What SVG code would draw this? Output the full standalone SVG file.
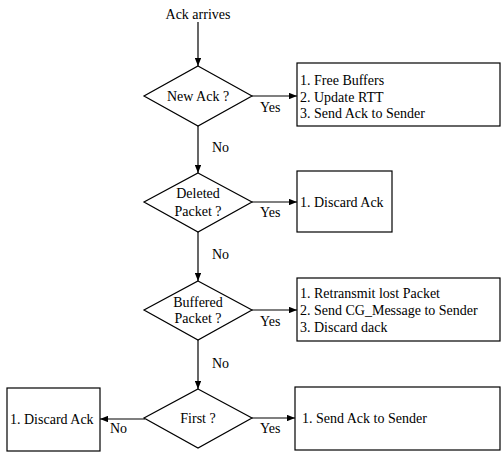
<svg xmlns="http://www.w3.org/2000/svg" width="502" height="453" viewBox="0 0 502 453">
<style>
.s{fill:#fff;stroke:#000;stroke-width:1.2}
.t{font-family:"Liberation Serif","Times New Roman",serif;font-size:14px;fill:#000}
.c{text-anchor:middle}
.l{stroke:#000;stroke-width:1.2;fill:none;marker-end:url(#a)}
</style>
<defs>
<marker id="a" viewBox="0 0 10 8" refX="10" refY="4" markerWidth="8" markerHeight="6.4" markerUnits="userSpaceOnUse" orient="auto">
<path d="M0,0L10,4L0,8z" fill="#000"/>
</marker>
</defs>
<rect width="502" height="453" fill="#fff"/>
<text class="t c" x="198" y="19">Ack arrives</text>
<g id="connectors">
<path class="l" d="M198,22V66"/>
<path class="l" d="M252,96H297"/>
<path class="l" d="M198,126V173"/>
<path class="l" d="M252,202H297"/>
<path class="l" d="M198,232V281"/>
<path class="l" d="M252,310H297"/>
<path class="l" d="M198,340V389"/>
<path class="l" d="M252,418H295"/>
<path class="l" d="M145,419H100"/>
<text class="t" x="260" y="112">Yes</text>
<text class="t" x="212" y="152">No</text>
<text class="t" x="260" y="217">Yes</text>
<text class="t" x="212" y="259">No</text>
<text class="t" x="260" y="326">Yes</text>
<text class="t" x="212" y="368">No</text>
<text class="t" x="260" y="433">Yes</text>
<text class="t" x="110" y="433">No</text>
</g>
<g id="d1">
<path class="s" d="M198,66L252,96L198,126L144,96z"/>
<text class="t c" x="198" y="101">New Ack ?</text>
</g>
<g id="b1">
<rect class="s" x="297" y="63" width="203" height="63"/>
<text class="t" x="300" y="85">1. Free Buffers</text>
<text class="t" x="300" y="101.5">2. Update RTT</text>
<text class="t" x="300" y="118">3. Send Ack to Sender</text>
</g>
<g id="d2">
<path class="s" d="M198,173L252,202L198,232L144,202z"/>
<text class="t c" x="198" y="198">Deleted</text>
<text class="t c" x="198" y="216">Packet ?</text>
</g>
<g id="b2">
<rect class="s" x="297" y="171" width="95" height="61"/>
<text class="t" x="300" y="207">1. Discard Ack</text>
</g>
<g id="d3">
<path class="s" d="M198,281L252,310L198,340L144,310z"/>
<text class="t c" x="198" y="307">Buffered</text>
<text class="t c" x="198" y="323">Packet ?</text>
</g>
<g id="b3">
<rect class="s" x="297" y="278" width="203" height="63"/>
<text class="t" x="300" y="298">1. Retransmit lost Packet</text>
<text class="t" x="300" y="315">2. Send CG_Message to Sender</text>
<text class="t" x="300" y="332">3. Discard dack</text>
</g>
<g id="d4">
<path class="s" d="M198,389L252,418L198,448L144,418z"/>
<text class="t c" x="198" y="423">First ?</text>
</g>
<g id="b4">
<rect class="s" x="295" y="387" width="205" height="63"/>
<text class="t" x="302" y="423">1. Send Ack to Sender</text>
</g>
<g id="b5">
<rect class="s" x="7" y="388" width="93" height="63"/>
<text class="t" x="10" y="424">1. Discard Ack</text>
</g>
</svg>
